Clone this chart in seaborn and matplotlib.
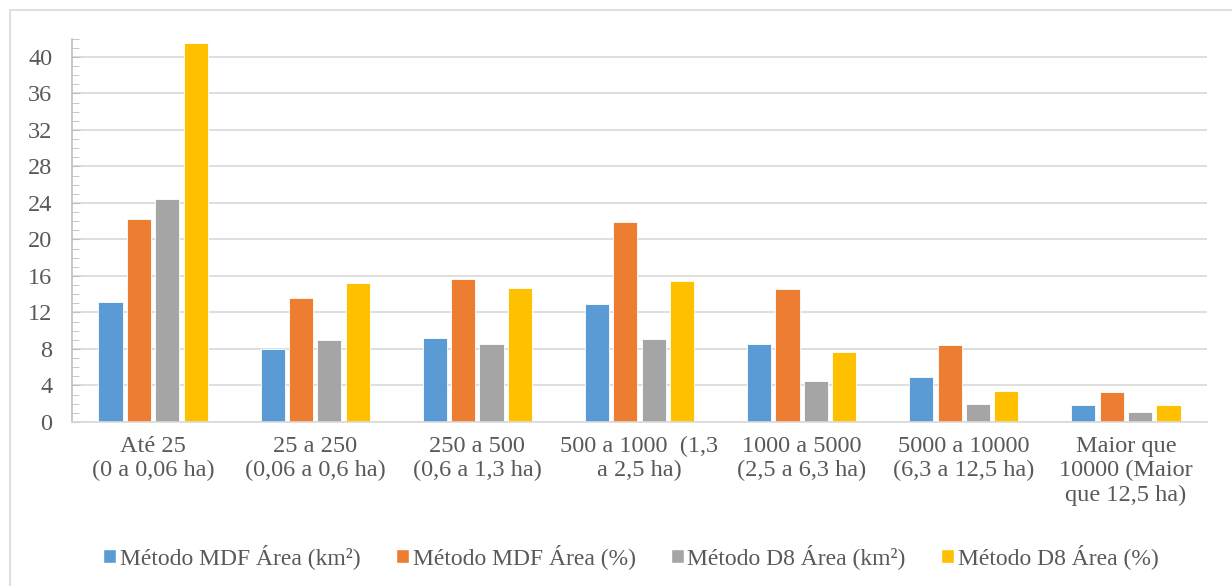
import pandas as pd
import matplotlib.pyplot as plt
import seaborn as sb
from matplotlib.patches import Rectangle, Patch
from matplotlib.ticker import MultipleLocator

categorias = ['Até 25\n(0 a 0,06 ha)', '25 a 250\n(0,06 a 0,6 ha)', '250 a 500\n(0,6 a 1,3 ha)',
              '500 a 1000  (1,3\na 2,5 ha)', '1000 a 5000\n(2,5 a 6,3 ha)', '5000 a 10000\n(6,3 a 12,5 ha)',
              'Maior que\n10000 (Maior\nque 12,5 ha)']
series = ['Método MDF Área (km²)', 'Método MDF Área (%)', 'Método D8 Área (km²)', 'Método D8 Área (%)']
mdf_km2 = [13.1, 8.0, 9.2, 12.9, 8.6, 4.9, 1.9]
mdf_pct = [22.2, 13.55, 15.7, 21.9, 14.6, 8.45, 3.25]
d8_km2 = [24.4, 8.95, 8.6, 9.05, 4.45, 1.95, 1.1]
d8_pct = [41.5, 15.25, 14.65, 15.4, 7.65, 3.4, 1.9]
cores = ['#5B9BD5', '#ED7D31', '#A5A5A5', '#FFC000']

df = pd.DataFrame({'cat': categorias * 4,
                   'serie': [s for s in series for _ in categorias],
                   'valor': mdf_km2 + mdf_pct + d8_km2 + d8_pct})

sb.set_style('white')
plt.rcParams['font.family'] = ['Liberation Serif', 'DejaVu Serif']
texto = '#595959'
fs = 17.5

fig = plt.figure(figsize=(12.32, 5.86), dpi=100)
ax = fig.add_axes([72 / 1232, 1 - 422 / 586, (1207 - 72) / 1232, (422 - 38.7) / 586])
sb.barplot(data=df, x='cat', y='valor', hue='serie', palette=cores, saturation=1, width=0.7, gap=0.15,
           edgecolor='white', linewidth=0.6, legend=False, ax=ax)

ax.set_ylim(0, 42)
ax.yaxis.set_major_locator(MultipleLocator(4))
ax.yaxis.set_minor_locator(MultipleLocator(1))
ax.grid(axis='y', which='major', color='#D9D9D9', linewidth=1.2)
ax.set_axisbelow(True)
for s in ['top', 'right']:
    ax.spines[s].set_visible(False)
ax.spines['left'].set_color('#BFBFBF')
ax.spines['bottom'].set_color('#D9D9D9')
ax.spines['left'].set_linewidth(1.2)
ax.spines['bottom'].set_linewidth(1.2)
ax.tick_params(axis='y', which='both', left=True, direction='in', color='#BFBFBF', labelcolor=texto,
               labelsize=fs, pad=14)
ax.tick_params(axis='y', which='major', length=6)
ax.tick_params(axis='y', which='minor', length=5)
ax.tick_params(axis='x', length=0, labelcolor=texto, labelsize=fs, pad=10)
ax.set_xlabel('')
ax.set_ylabel('')

handles = [Patch(facecolor=c, label=s) for c, s in zip(cores, series)]
fig.legend(handles=handles, loc='center', bbox_to_anchor=(631 / 1232, 1 - 557 / 586), ncol=4, frameon=False,
           fontsize=17, labelcolor=texto, handlelength=0.55, handleheight=0.55, handletextpad=0.15,
           columnspacing=1.5)

fig.patches.append(Rectangle((10 / 1232, -0.1), 1.2, 1.1 - 10 / 586, transform=fig.transFigure,
                             fill=False, edgecolor='#D9D9D9', linewidth=1.2))

plt.savefig('out.png', dpi=100)
